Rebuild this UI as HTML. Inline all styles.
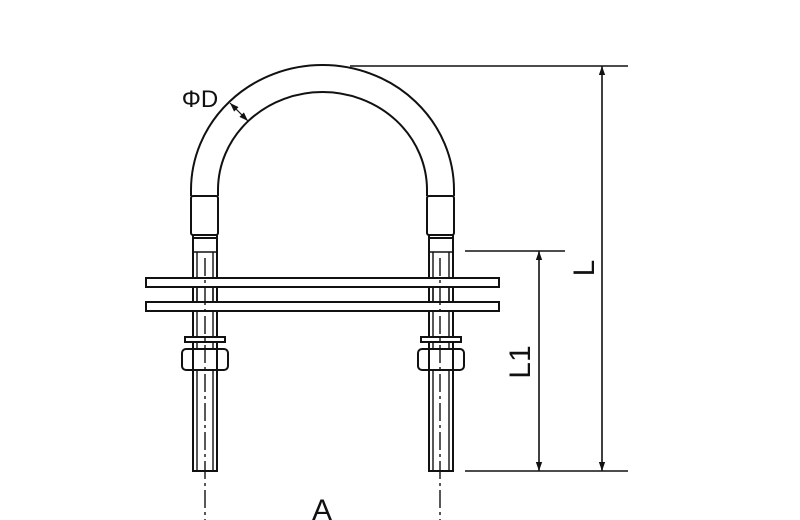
<!DOCTYPE html>
<html><head><meta charset="utf-8"><style>
html,body{margin:0;padding:0;background:#fff;}
svg{display:block;}
text{font-family:"Liberation Sans",sans-serif;fill:#111;}
</style></head><body>
<svg width="800" height="520" viewBox="0 0 800 520" xmlns="http://www.w3.org/2000/svg">
<defs>
<marker id="ar" viewBox="0 0 10 10" refX="10" refY="5" markerWidth="9" markerHeight="9" orient="auto-start-reverse" markerUnits="userSpaceOnUse">
<path d="M0,1.5 L10,5 L0,8.5 z" fill="#111"/>
</marker>
</defs>
<g fill="none" stroke="#111" stroke-width="2">
<path d="M191,196 L191,190 A131.5,125 0 0 1 454,190 L454,196"/>
<path d="M218,196 L218,190 A104.5,98 0 0 1 427,190 L427,196"/>
<rect x="191" y="196" width="27" height="39" rx="2"/>
<rect x="427" y="196" width="27" height="39" rx="2"/>
<rect x="193" y="235" width="24" height="236"/>
<rect x="429" y="235" width="24" height="236"/>
<line x1="193" y1="238" x2="217" y2="238"/>
<line x1="429" y1="238" x2="453" y2="238"/>
<g stroke-width="1.4">
<line x1="197" y1="252" x2="197" y2="471"/><line x1="213" y1="252" x2="213" y2="471"/>
<line x1="433" y1="252" x2="433" y2="471"/><line x1="449" y1="252" x2="449" y2="471"/>
<line x1="193" y1="252" x2="217" y2="252"/><line x1="429" y1="252" x2="453" y2="252"/>
</g>
<rect x="146" y="278" width="353" height="9" fill="#fff"/>
<rect x="146" y="302" width="353" height="9" fill="#fff"/>
<line x1="193" y1="287" x2="193" y2="302"/><line x1="217" y1="287" x2="217" y2="302"/>
<line x1="429" y1="287" x2="429" y2="302"/><line x1="453" y1="287" x2="453" y2="302"/>
<g stroke-width="1.4">
<line x1="197" y1="287" x2="197" y2="302"/><line x1="213" y1="287" x2="213" y2="302"/>
<line x1="433" y1="287" x2="433" y2="302"/><line x1="449" y1="287" x2="449" y2="302"/>
</g>
<rect x="185" y="337" width="40" height="5" fill="#fff"/>
<rect x="421" y="337" width="40" height="5" fill="#fff"/>
<rect x="182" y="349" width="46" height="21" rx="4" fill="#fff"/>
<rect x="418" y="349" width="46" height="21" rx="4" fill="#fff"/>
<line x1="193" y1="349" x2="193" y2="370"/><line x1="217" y1="349" x2="217" y2="370"/>
<line x1="429" y1="349" x2="429" y2="370"/><line x1="453" y1="349" x2="453" y2="370"/>
<g stroke-width="1.4" stroke-dasharray="18,4,3,4">
<line x1="205" y1="258" x2="205" y2="520"/>
<line x1="440" y1="258" x2="440" y2="520"/>
</g>
<g stroke-width="1.6">
<line x1="350" y1="66" x2="628" y2="66"/>
<line x1="465" y1="471" x2="628" y2="471"/>
<line x1="465" y1="251" x2="565" y2="251"/>
<line x1="602" y1="66" x2="602" y2="471" marker-start="url(#ar)" marker-end="url(#ar)"/>
<line x1="539" y1="251" x2="539" y2="471" marker-start="url(#ar)" marker-end="url(#ar)"/>
<line x1="230" y1="103" x2="248" y2="121" stroke-width="1.2" marker-start="url(#ar)" marker-end="url(#ar)"/>
</g>
</g>
<text x="200" y="107" font-size="24" text-anchor="middle">ΦD</text>
<text x="322" y="520" font-size="30" text-anchor="middle">A</text>
<text transform="translate(594,268) rotate(-90)" font-size="30" text-anchor="middle">L</text>
<text transform="translate(530,362) rotate(-90)" font-size="30" text-anchor="middle">L1</text>
</svg>
</body></html>
